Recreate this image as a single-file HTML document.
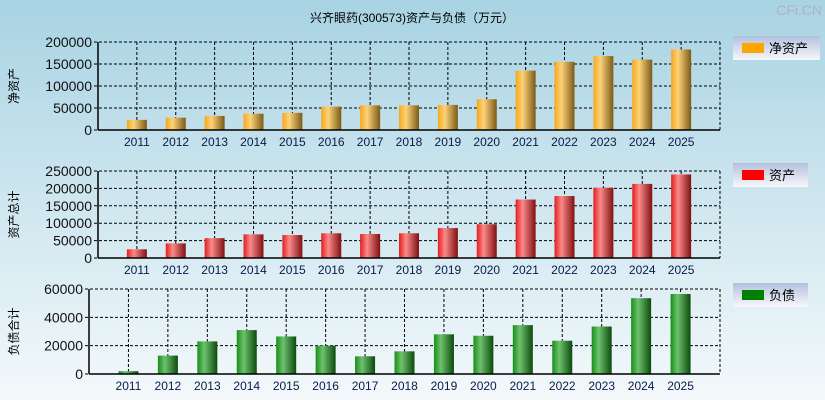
<!DOCTYPE html>
<html><head><meta charset="utf-8">
<style>
html,body{margin:0;padding:0;width:825px;height:400px;overflow:hidden}
svg{display:block;font-family:"Liberation Sans","Noto Sans CJK SC",sans-serif}
</style></head>
<body>
<svg id="c" width="825" height="400" xmlns="http://www.w3.org/2000/svg">
<defs>
<linearGradient id="bg" x1="0" y1="0" x2="0" y2="1"><stop offset="0" stop-color="#a8d3e3"/><stop offset="1" stop-color="#f4f9fb"/></linearGradient>
<linearGradient id="lg" x1="0" y1="0" x2="0" y2="1"><stop offset="0" stop-color="#b3c0dc"/><stop offset="1" stop-color="#f8f8fc"/></linearGradient>
<linearGradient id="g0" x1="0" x2="1"><stop offset="0" stop-color="#f7a81b"/><stop offset="0.35" stop-color="#fcd27a"/><stop offset="1" stop-color="#7c5a15"/></linearGradient>
<linearGradient id="g1" x1="0" x2="1"><stop offset="0" stop-color="#e41d1d"/><stop offset="0.35" stop-color="#fb8a8a"/><stop offset="1" stop-color="#7f1010"/></linearGradient>
<linearGradient id="g2" x1="0" x2="1"><stop offset="0" stop-color="#169016"/><stop offset="0.35" stop-color="#6fc16f"/><stop offset="1" stop-color="#0b4a0b"/></linearGradient>
</defs>
<rect width="825" height="400" fill="url(#bg)"/>
<text x="412" y="22" text-anchor="middle" font-size="12" fill="#000">兴齐眼药(300573)资产与负债（万元）</text>
<text x="822" y="15" text-anchor="end" font-size="14" fill="#aab6bd">CFi.CN</text>
</svg>
<script>
const years=["2011","2012","2013","2014","2015","2016","2017","2018","2019","2020","2021","2022","2023","2024","2025"];
const netAssets=[23000,28000,32000,37000,39000,53000,56000,56000,57000,70000,135000,155000,168000,160000,183000];
const totalAssets=[25000,42000,57000,68000,66000,71000,69000,71000,86000,97000,168000,178000,202000,213000,240000];
const liabilities=[2000,13000,23000,31000,26500,20000,12500,16000,28000,27000,34500,23500,33500,53500,56500];
const ticks1=[0,50000,100000,150000,200000];
const ticks2=[0,50000,100000,150000,200000,250000];
const ticks3=[0,20000,40000,60000];
const svg=document.getElementById('c');
const NS='http://www.w3.org/2000/svg';
function mk(t,a,txt){const e=document.createElementNS(NS,t);for(const k in a)e.setAttribute(k,a[k]);if(txt!=null)e.textContent=txt;svg.appendChild(e);return e;}
function panel(p){
  const {L,R,T,B,max,ticks,vals,grad,ytitle,legend,legColor,ly,lw,key}=p;
  const step=(R-L)/16;
  const x=i=>L+(i+1)*step;
  const y=v=>B-(v/max)*(B-T);
  let e;
  for(let i=0;i<years.length;i++){
    e=mk('line',{x1:x(i),x2:x(i),y1:T,y2:B,stroke:'#000','stroke-dasharray':'3,2','stroke-width':1});
    
    
  }
  ticks.forEach(t=>{
    e=mk('line',{x1:L-4,x2:R,y1:y(t),y2:y(t),stroke:'#000','stroke-dasharray':'3,2','stroke-width':1});
    
    
    e=mk('text',{x:L-6,y:y(t)+5,'text-anchor':'end','font-size':14,fill:'#111'},t);
    
    
  });
  e=mk('line',{x1:R,x2:R,y1:T,y2:B,stroke:'#000','stroke-dasharray':'3,2'});
  
  
  vals.forEach((v,i)=>{
    e=mk('rect',{x:x(i)-10,y:y(v),width:20,height:B-y(v),fill:'url(#'+grad+')'});
    
    
    e=mk('text',{x:x(i),y:B+16,'text-anchor':'middle','font-size':12,fill:'#0a1a4a'},years[i]);
    
    
  });
  e=mk('line',{x1:L,x2:L,y1:T,y2:B,stroke:'#000','stroke-width':1.5});
  
  
  e=mk('line',{x1:L,x2:R,y1:B,y2:B,stroke:'#000','stroke-width':1.5});
  
  
  const my=(T+B)/2;
  e=mk('text',{x:0,y:0,transform:'translate(18,'+my+') rotate(-90)','text-anchor':'middle','font-size':12,fill:'#000'},ytitle);
  
  
  e=mk('rect',{x:733,y:ly,width:lw,height:24,fill:'url(#lg)'});
  
  
  e=mk('rect',{x:742,y:ly+7,width:22,height:10,fill:legColor});
  
  
  e=mk('text',{x:769,y:ly+17,'font-size':13,fill:'#000'},legend);
  
  
}
panel({L:98,R:720,T:42,B:130,max:200000,ticks:ticks1,vals:netAssets,grad:'g0',ytitle:'净资产',legend:'净资产',legColor:'#ffa500',ly:36,lw:87,key:'net-assets'});
panel({L:98,R:720,T:171,B:258,max:250000,ticks:ticks2,vals:totalAssets,grad:'g1',ytitle:'资产总计',legend:'资产',legColor:'#ff0000',ly:163,lw:75,key:'total-assets'});
panel({L:89,R:720,T:289,B:374,max:60000,ticks:ticks3,vals:liabilities,grad:'g2',ytitle:'负债合计',legend:'负债',legColor:'#008000',ly:283,lw:75,key:'liabilities'});
</script>
</body></html>
